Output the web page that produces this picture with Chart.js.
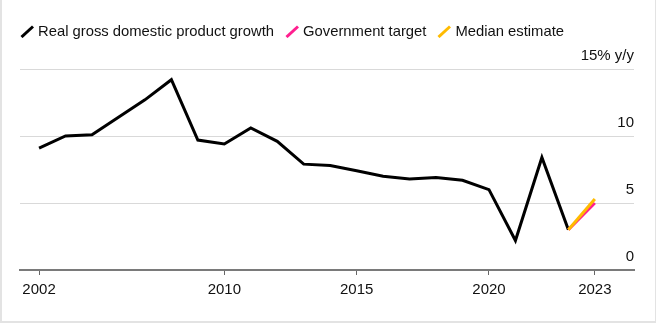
<!DOCTYPE html>
<html>
<head>
<meta charset="utf-8">
<script src="https://cdn.jsdelivr.net/npm/chart.js@4"></script>
<style>
  html, body { margin: 0; padding: 0; background: #fff; }
  #wrap { position: relative; width: 656px; height: 323px; box-sizing: border-box;
          border-left: 2px solid #e3e3e3; border-right: 1px solid #e3e3e3; border-bottom: 2px solid #e3e3e3; overflow: hidden; }
  #c { position: absolute; left: 0; top: 0; }
  #legend { position: absolute; left: 18px; top: 22px; font-family: "Liberation Sans", Arial, sans-serif;
            font-size: 14.8px; color: #111; white-space: nowrap; line-height: 18px; }
  .item { display: inline-block; position: relative; padding-left: 18px; margin-right: 11px; }
  .item canvas { position: absolute; left: 0; top: 3px; }
</style>
</head>
<body>
<div id="wrap">
  <canvas id="c" width="654" height="321"></canvas>
  <div id="legend"></div>
</div>
<script>
// ---- data ----
const years = [2002,2003,2004,2005,2006,2007,2008,2009,2010,2011,2012,2013,2014,2015,2016,2017,2018,2019,2020,2021,2022];
const gdpGrowth = [9.1,10.0,10.1,11.4,12.7,14.2,9.7,9.4,10.6,9.6,7.9,7.8,7.4,7.0,6.8,6.9,6.7,6.0,2.2,8.4,3.0];
const targetYears = [2022, 2023];
const governmentTarget = [3.0, 5.0];
const medianYears = [2022, 2023];
const medianEstimate = [3.0, 5.3];
const xTickYears = [2002, 2010, 2015, 2020, 2023];
const yTickValues = [0, 5, 10, 15];
const seriesNames = ['Real gross domestic product growth', 'Government target', 'Median estimate'];
const seriesColors = ['#000000', '#ff1f8f', '#ffbb00'];

// annual values are dated at the end of each year
const endOfYear = y => y + 1;
const pts = (xs, vs) => xs.map((y, i) => ({ x: endOfYear(y), y: vs[i] }));
const firstYear = years[0], lastYear = targetYears[targetYears.length - 1];
const tickPos = xTickYears.map(y => (y === firstYear || y === lastYear) ? endOfYear(y) : y);

// legend (HTML text)
const legend = document.getElementById('legend');
seriesNames.forEach((name, i) => {
  const span = document.createElement('span');
  span.className = 'item';
  const mk = document.createElement('canvas');
  mk.width = 14; mk.height = 13;
  const g = mk.getContext('2d');
  g.strokeStyle = seriesColors[i]; g.lineWidth = 3; g.lineCap = 'butt';
  g.beginPath(); g.moveTo(1.5, 12); g.lineTo(13, 1.5); g.stroke();
  span.appendChild(mk);
  span.appendChild(document.createTextNode(name));
  legend.appendChild(span);
});

const FONT = { family: '"Liberation Sans", Arial, sans-serif', size: 15 };

new Chart(document.getElementById('c'), {
  type: 'line',
  data: {
    datasets: [
      { label: seriesNames[0], data: pts(years, gdpGrowth), borderColor: seriesColors[0], borderWidth: 3, pointRadius: 0, tension: 0, borderJoinStyle: 'miter', order: 3 },
      { label: seriesNames[1], data: pts(targetYears, governmentTarget), borderColor: seriesColors[1], borderWidth: 3, pointRadius: 0, tension: 0, order: 2 },
      { label: seriesNames[2], data: pts(medianYears, medianEstimate), borderColor: seriesColors[2], borderWidth: 3, pointRadius: 0, tension: 0, order: 1 }
    ]
  },
  options: {
    responsive: false,
    animation: false,
    events: [],
    layout: { padding: { top: 69, left: 18, right: 22, bottom: 16 } },
    plugins: { legend: { display: false }, tooltip: { enabled: false } },
    scales: {
      x: {
        type: 'linear',
        min: 2002.28,
        max: 2025.48,
        afterBuildTicks: s => { s.ticks = tickPos.map(v => ({ value: v })); },
        ticks: {
          autoSkip: false, maxRotation: 0, padding: 6, color: '#111', font: FONT,
          callback: (v, i) => String(xTickYears[i])
        },
        grid: { drawOnChartArea: false, drawTicks: true, tickLength: 5, color: '#666', lineWidth: 1 },
        border: { display: true, color: '#7a7a7a', width: 2 }
      },
      y: {
        position: 'right',
        min: 0, max: 15,
        afterBuildTicks: s => { s.ticks = yTickValues.map(v => ({ value: v })); },
        ticks: {
          mirror: true, padding: 0, labelOffset: -13, color: '#111', font: FONT,
          callback: v => v === 15 ? '15% y/y' : String(v)
        },
        grid: { drawTicks: false, color: '#d9d9d9', lineWidth: 1 },
        border: { display: false }
      }
    }
  }
});
</script>
</body>
</html>
